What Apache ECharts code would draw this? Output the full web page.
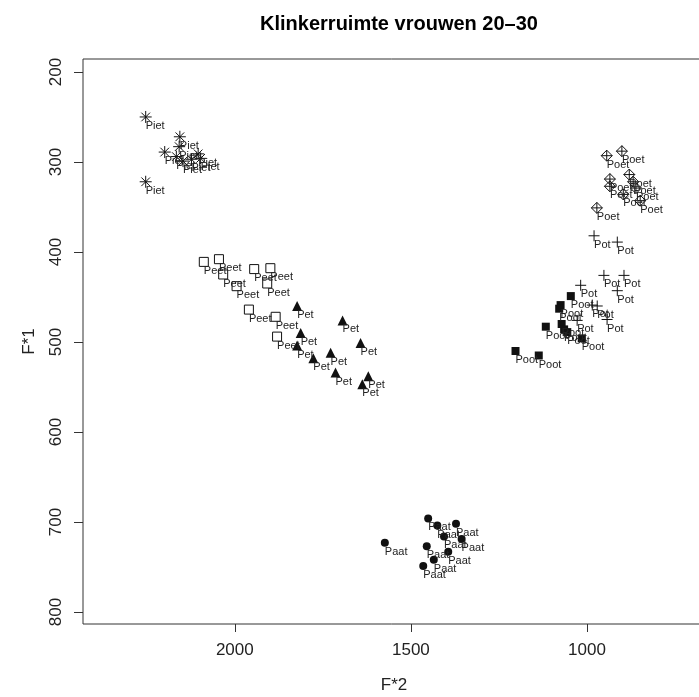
<!DOCTYPE html>
<html>
<head>
<meta charset="utf-8">
<script src="https://cdn.jsdelivr.net/npm/echarts@6/dist/echarts.min.js"></script>
<style>
html,body{margin:0;padding:0;background:#fff;}
#chart{width:699px;height:697px;}
</style>
</head>
<body>
<div id="chart"></div>
<script>
// ---- data (F2 = x, F1 = y) ----
const vowels = ['Piet', 'Peet', 'Pet', 'Paat', 'Pot', 'Poot', 'Poet'];

const pietF2 = [2253, 2156, 2158, 2199, 2166, 2147, 2104, 2097, 2123, 2253];
const pietF1 = [250, 272, 283, 289, 294, 299, 291, 296, 297, 322];

const peetF2 = [2088, 2045, 2033, 1995, 1945, 1899, 1908, 1960, 1884, 1880];
const peetF1 = [411, 408, 425, 438, 419, 418, 435, 464, 472, 494];

const petF2 = [1823, 1694, 1643, 1813, 1823, 1777, 1728, 1714, 1621, 1638];
const petF1 = [460, 476, 501, 490, 504, 518, 512, 534, 538, 547];

const paatF2 = [1574, 1451, 1425, 1372, 1406, 1356, 1455, 1394, 1435, 1465];
const paatF1 = [723, 696, 704, 702, 716, 719, 727, 733, 742, 749];

const potF2 = [980, 914, 952, 895, 1018, 914, 985, 971, 1028, 943];
const potF1 = [382, 389, 426, 426, 437, 443, 459, 460, 476, 475];

const pootF2 = [1046, 1075, 1079, 1117, 1072, 1065, 1056, 1015, 1203, 1137];
const pootF1 = [449, 459, 463, 483, 480, 486, 489, 496, 510, 515];

const poetF2 = [944, 901, 935, 880, 935, 869, 861, 897, 849, 972];
const poetF1 = [293, 288, 319, 314, 327, 322, 329, 336, 343, 351];

const xTicks = [1000, 1500, 2000];
const yTicks = [200, 300, 400, 500, 600, 700, 800];

const titleText = 'Klinkerruimte vrouwen 20–30';
const xName = 'F*2';
const yName = 'F*1';

// ---- styles ----
const FONT = '"Liberation Sans", Arial, Helvetica, sans-serif';
const INK = '#111';
const symbols = {
  Piet: {symbol: 'path://M0,-1L0,1M-1,0L1,0M-0.72,-0.72L0.72,0.72M-0.72,0.72L0.72,-0.72', size: 12, fill: 'rgba(0,0,0,0)', stroke: INK, bw: 1},
  Peet: {symbol: 'rect', size: 9, fill: 'rgba(255,255,255,0)', stroke: INK, bw: 1},
  Pet: {symbol: 'triangle', size: 10, fill: INK, stroke: INK, bw: 0},
  Paat: {symbol: 'circle', size: 8, fill: INK, stroke: INK, bw: 0},
  Pot: {symbol: 'path://M0,-1L0,1M-1,0L1,0', size: 11, fill: 'rgba(0,0,0,0)', stroke: INK, bw: 1},
  Poot: {symbol: 'rect', size: 8, fill: INK, stroke: INK, bw: 0},
  Poet: {symbol: 'path://M0,-1L1,0L0,1L-1,0ZM0,-1L0,1M-1,0L1,0', size: 11, fill: 'rgba(0,0,0,0)', stroke: INK, bw: 1}
};

const dataSets = {
  Piet: [pietF2, pietF1], Peet: [peetF2, peetF1], Pet: [petF2, petF1],
  Paat: [paatF2, paatF1], Pot: [potF2, potF1], Poot: [pootF2, pootF1], Poet: [poetF2, poetF1]
};

const series = vowels.map(function (v) {
  const xs = dataSets[v][0], ys = dataSets[v][1];
  const s = symbols[v];
  return {
    name: v,
    type: 'scatter',
    symbol: s.symbol,
    symbolSize: s.size,
    data: xs.map(function (x, i) { return [x, ys[i]]; }),
    itemStyle: {color: s.fill, borderColor: s.stroke, borderWidth: s.bw, opacity: 1},
    label: {
      show: true,
      formatter: v,
      position: 'inside',
      align: 'left',
      verticalAlign: 'middle',
      offset: [0, 9],
      fontFamily: FONT,
      fontSize: 11,
      color: '#222'
    },
    emphasis: {disabled: true},
    animation: false
  };
});

const chart = echarts.init(document.getElementById('chart'), null, {renderer: 'canvas'});
chart.setOption({
  backgroundColor: '#fff',
  animation: false,
  title: {
    text: titleText,
    left: 394,
    top: 9,
    textAlign: 'center',
    textStyle: {fontFamily: FONT, fontWeight: 'bold', fontSize: 20, color: '#000'}
  },
  grid: {
    left: 83, top: 59, width: 622, height: 565,
    show: true, borderColor: '#333', borderWidth: 1,
    containLabel: false, outerBoundsMode: 'none'
  },
  xAxis: {
    type: 'value', inverse: true, min: 665, max: 2431,
    name: xName, nameLocation: 'middle', nameGap: 53,
    nameTextStyle: {fontFamily: FONT, fontSize: 17, color: '#222'},
    axisLine: {show: false},
    splitLine: {show: false},
    axisTick: {show: true, inside: false, length: 8, customValues: xTicks, lineStyle: {color: '#333'}},
    axisLabel: {customValues: xTicks, margin: 18, fontFamily: FONT, fontSize: 17, color: '#222',
      formatter: function (v) { return String(v); }}
  },
  yAxis: {
    type: 'value', inverse: true, min: 185.6, max: 813.3,
    name: yName, nameLocation: 'middle', nameGap: 45, nameRotate: 90,
    nameTextStyle: {fontFamily: FONT, fontSize: 17, color: '#222'},
    axisLine: {show: false},
    splitLine: {show: false},
    axisTick: {show: true, inside: false, length: 9, customValues: yTicks, lineStyle: {color: '#333'}},
    axisLabel: {customValues: yTicks, rotate: 90, margin: 18, fontFamily: FONT, fontSize: 17, color: '#222',
      formatter: function (v) { return String(v); }}
  },
  series: series
});
</script>
</body>
</html>
